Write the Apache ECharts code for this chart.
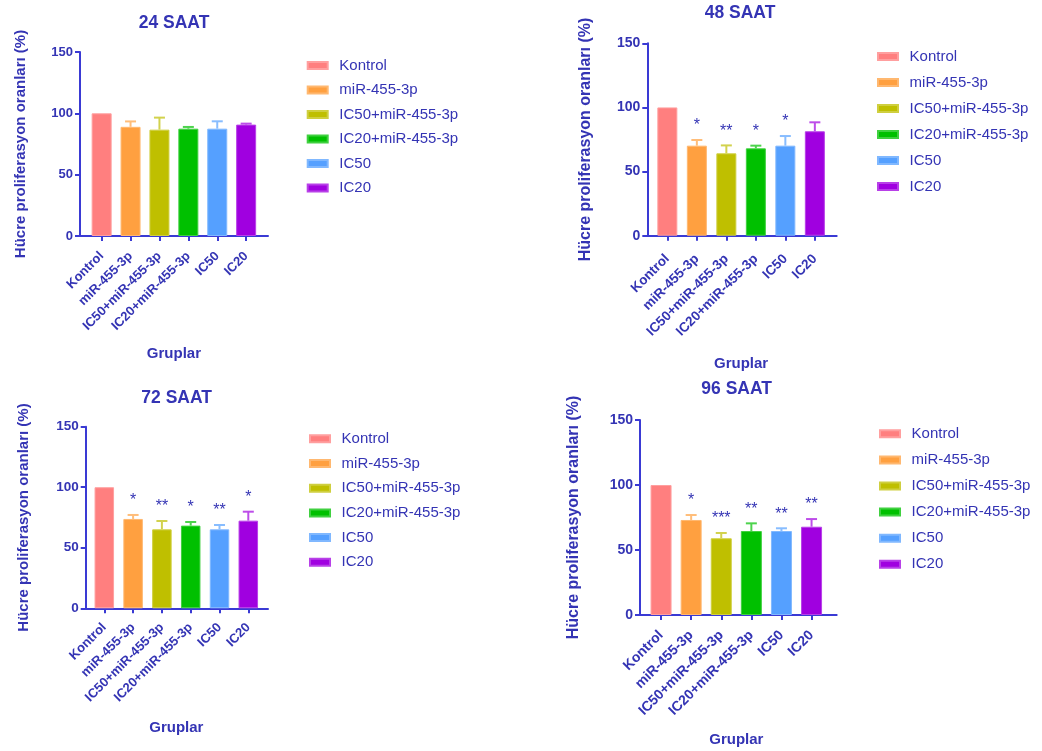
<!DOCTYPE html>
<html>
<head>
<meta charset="utf-8">
<title>Hücre proliferasyon oranları</title>
<script src="https://cdn.jsdelivr.net/npm/echarts@6/dist/echarts.min.js"></script>
<style>
  html, body { margin: 0; padding: 0; background: #ffffff; }
  #chart { width: 1042px; height: 751px; }
</style>
</head>
<body>
<div id="chart"></div>
<script>
// Groups shown on every panel
const categories = ['Kontrol', 'miR-455-3p', 'IC50+miR-455-3p', 'IC20+miR-455-3p', 'IC50', 'IC20'];
const yTicks = [0, 50, 100, 150];

// Mean proliferation (%) and upper error (SD) per group, per time point
const means24 = [100, 89, 86.7, 87.5, 87.5, 90.8];
const errs24  = [0, 4.4, 9.8, 1.4, 6, 0.8];
const stars24 = ['', '', '', '', '', ''];

const means48 = [100, 70.2, 64.2, 68.1, 70.2, 81.4];
const errs48  = [0, 4.4, 6.2, 2.1, 7.5, 7];
const stars48 = ['', '*', '**', '*', '*', ''];

const means72 = [100, 73.8, 65.2, 68.3, 65.2, 72.4];
const errs72  = [0, 3.3, 6.9, 3, 3.6, 7.4];
const stars72 = ['', '*', '**', '*', '**', '*'];

const means96 = [100, 73.1, 59, 64.6, 64.6, 67.9];
const errs96  = [0, 3.8, 4.1, 5.9, 2.1, 5.9];
const stars96 = ['', '*', '***', '**', '**', '**'];

const titles = ['24 SAAT', '48 SAAT', '72 SAAT', '96 SAAT'];

// Styling
const barColors = ['#ff7f7f', '#ffa040', '#bfbf00', '#00c000', '#55a0ff', '#a000e0'];
const textColor = '#3434b4';
const axisColor = '#3a3ad4';
const font = "'Liberation Sans', Arial, sans-serif";

function tint(hex, t) {
  const n = parseInt(hex.slice(1), 16);
  const r = (n >> 16) & 255, g = (n >> 8) & 255, b = n & 255;
  const mix = v => Math.round(v + (255 - v) * t);
  return 'rgb(' + mix(r) + ',' + mix(g) + ',' + mix(b) + ')';
}
const errColors = barColors.map(c => tint(c, 0.3));

// Panel geometry (pixels)
const layout = [
  { axisX: 80,    plotLeft: 87.2,  plotWidth: 173.4, axisEnd: 268,   top: 52,    bottom: 236,   barWidth: 20,
    titleX: 174,   titleTop: 14,    yNameGap: 52,   yNameSize: 15, xNameGap: 118,
    tickSize: 13,   xLabelSize: 13,   xLabelMargin: 18,
    legendLeft: 306.7, legendTop: 57.5,  legendGap: 8.5 },
  { axisX: 647.3, plotLeft: 652.6, plotWidth: 177,   axisEnd: 836.7, top: 43.3,  bottom: 235.7, barWidth: 20,
    titleX: 740,   titleTop: 4,     yNameGap: 54,   yNameSize: 16, xNameGap: 128,
    tickSize: 14,   xLabelSize: 13.5, xLabelMargin: 21,
    legendLeft: 877,   legendTop: 48.5,  legendGap: 10 },
  { axisX: 85.7,  plotLeft: 89.9,  plotWidth: 172.8, axisEnd: 268,   top: 426.7, bottom: 608.3, barWidth: 19.5,
    titleX: 176.7, titleTop: 388.7, yNameGap: 54.5, yNameSize: 15, xNameGap: 120,
    tickSize: 13.5, xLabelSize: 13,   xLabelMargin: 17,
    legendLeft: 309,   legendTop: 430.8, legendGap: 8.7 },
  { axisX: 640,   plotLeft: 646,   plotWidth: 180.6, axisEnd: 836.7, top: 420,   bottom: 615,   barWidth: 21,
    titleX: 736.7, titleTop: 380.3, yNameGap: 58.5, yNameSize: 16, xNameGap: 125,
    tickSize: 14,   xLabelSize: 14,   xLabelMargin: 18,
    legendLeft: 879,   legendTop: 425.8, legendGap: 10.1 }
];

const panelData = [
  { means: means24, errs: errs24, stars: stars24 },
  { means: means48, errs: errs48, stars: stars48 },
  { means: means72, errs: errs72, stars: stars72 },
  { means: means96, errs: errs96, stars: stars96 }
];

const option = {
  backgroundColor: '#ffffff',
  animation: false,
  title: [], grid: [], xAxis: [], yAxis: [], legend: [], series: []
};

panelData.forEach((pd, k) => {
  const L = layout[k];
  const plotH = L.bottom - L.top;
  const gi = k * 2;      // grid holding the bars
  const gl = k * 2 + 1;  // grid spanning the full x-axis baseline

  option.title.push({
    text: titles[k], left: L.titleX, top: L.titleTop, textAlign: 'center', padding: 0,
    textStyle: { fontFamily: font, fontSize: 17.5, fontWeight: 'bold', color: textColor }
  });

  option.grid.push({ left: L.plotLeft, top: L.top, width: L.plotWidth, height: plotH, containLabel: false });
  option.grid.push({ left: L.axisX, top: L.top, width: L.axisEnd - L.axisX, height: plotH, containLabel: false });

  option.xAxis.push({
    type: 'category', gridIndex: gi, data: categories,
    axisLine: { show: false },
    axisTick: { show: true, alignWithLabel: true, length: 5, lineStyle: { color: axisColor, width: 2 } },
    axisLabel: { rotate: 45, margin: L.xLabelMargin, interval: 0, color: textColor, fontFamily: font,
                 fontWeight: 'bold', fontSize: L.xLabelSize },
    name: 'Gruplar', nameLocation: 'middle', nameGap: L.xNameGap,
    nameTextStyle: { fontFamily: font, fontWeight: 'bold', fontSize: 15, color: textColor, verticalAlign: 'middle' }
  });
  option.xAxis.push({
    type: 'value', gridIndex: gl, min: 0, max: 1,
    axisLine: { show: true, onZero: false, lineStyle: { color: axisColor, width: 2 } },
    axisTick: { show: false }, axisLabel: { show: false }, splitLine: { show: false }
  });

  option.yAxis.push({
    type: 'value', gridIndex: gi, min: 0, max: 150, interval: 50,
    offset: L.plotLeft - L.axisX,
    axisLine: { show: true, lineStyle: { color: axisColor, width: 2 } },
    axisTick: { show: true, length: 5, lineStyle: { color: axisColor, width: 2 } },
    axisLabel: { margin: 7, color: textColor, fontFamily: font, fontWeight: 'bold', fontSize: L.tickSize,
                 formatter: v => (yTicks.indexOf(v) >= 0 ? String(v) : '') },
    splitLine: { show: false },
    name: 'Hücre proliferasyon oranları (%)', nameLocation: 'middle', nameGap: L.yNameGap,
    nameTextStyle: { fontFamily: font, fontWeight: 'bold', fontSize: L.yNameSize, color: textColor }
  });
  option.yAxis.push({
    type: 'value', gridIndex: gl, min: 0, max: 1, show: false
  });

  option.legend.push({
    data: categories, orient: 'vertical', left: L.legendLeft, top: L.legendTop, padding: 0,
    itemWidth: 20, itemHeight: 7, itemGap: L.legendGap, icon: 'rect', selectedMode: false,
    textStyle: { fontFamily: font, fontSize: 15, color: textColor, lineHeight: 16, padding: [0, 0, 0, 6.6] }
  });

  // One bar series per group so each group has its own legend entry
  categories.forEach((name, i) => {
    option.series.push({
      type: 'bar', name: name, stack: 'panel' + k,
      xAxisIndex: gi, yAxisIndex: gi,
      barWidth: L.barWidth,
      itemStyle: { color: barColors[i], borderColor: tint(barColors[i], 0.25), borderWidth: 1 },
      data: categories.map((_, j) => (j === i ? pd.means[i] : '-'))
    });
  });

  // Upper error bars and significance marks
  option.series.push({
    type: 'custom', name: 'err' + k, xAxisIndex: gi, yAxisIndex: gi, z: 5,
    data: pd.means.map((m, j) => [j, m, pd.errs[j]]),
    renderItem: (params, api) => {
      const idx = api.value(0), m = api.value(1), e = api.value(2);
      const base = api.coord([idx, m]);
      const top = api.coord([idx, m + e]);
      const c = errColors[idx];
      const children = [];
      if (e > 0) {
        children.push({ type: 'line', shape: { x1: base[0], y1: base[1], x2: top[0], y2: top[1] },
                        style: { stroke: c, lineWidth: 2 } });
        children.push({ type: 'line', shape: { x1: top[0] - 5.5, y1: top[1], x2: top[0] + 5.5, y2: top[1] },
                        style: { stroke: c, lineWidth: 2 } });
      }
      const s = pd.stars[idx];
      if (s) {
        children.push({ type: 'text', x: top[0], y: top[1] - 14,
                        style: { text: s, fill: textColor, font: '16px ' + font, align: 'center', verticalAlign: 'middle' } });
      }
      return { type: 'group', children: children };
    }
  });
});

const chart = echarts.init(document.getElementById('chart'), null, { renderer: 'canvas' });
chart.setOption(option);
</script>
</body>
</html>
